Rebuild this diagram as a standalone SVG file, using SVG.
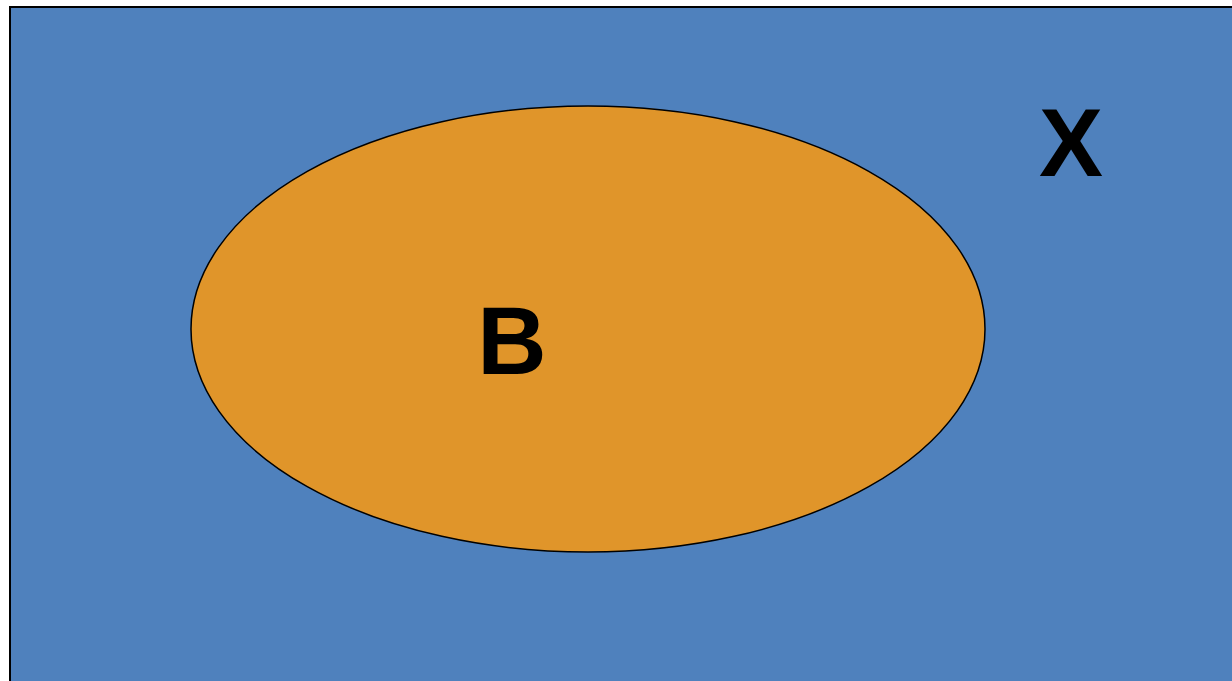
<svg xmlns="http://www.w3.org/2000/svg" width="1232" height="681" viewBox="0 0 1232 681">
<style>
.lbl{font-family:"Liberation Sans",Arial,sans-serif;font-weight:bold;font-size:96px;fill:#000;text-anchor:middle}
</style>
<rect width="1232" height="681" fill="#fff"/>
<g id="universe">
<rect x="10" y="7" width="1240" height="700" fill="#4f81bd" stroke="#000" stroke-width="2"/>
<text class="lbl" x="1071" y="176">X</text>
</g>
<g id="setB">
<ellipse cx="588" cy="329" rx="397" ry="223" fill="#e0952a" stroke="#000" stroke-width="1.5"/>
<text class="lbl" x="512" y="374">B</text>
</g>
<g id="connectors"/>
</svg>
